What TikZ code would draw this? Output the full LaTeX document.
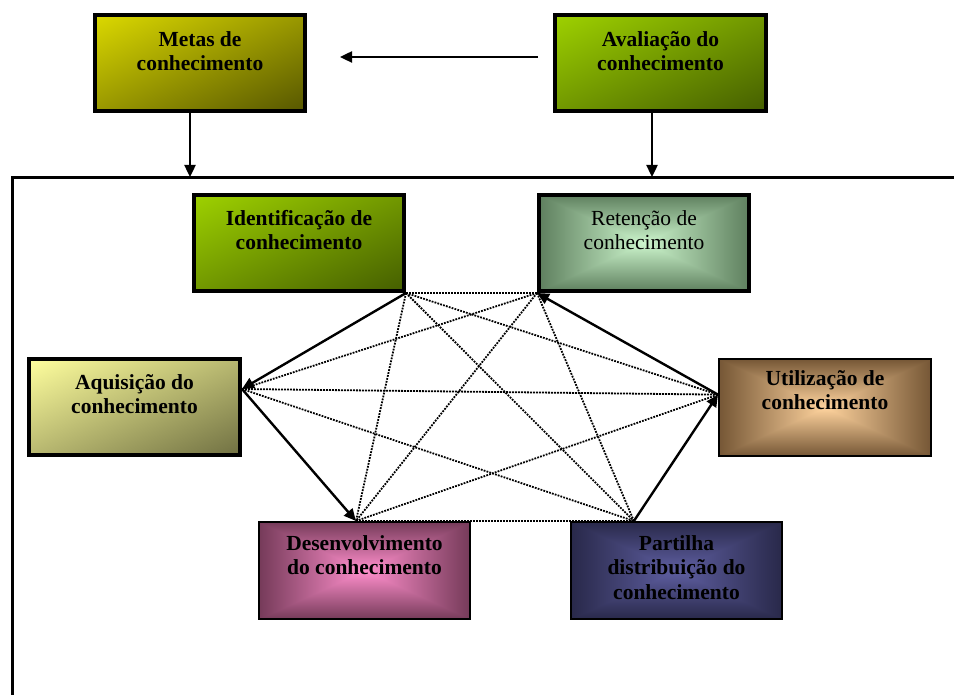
\documentclass[tikz,border=0pt]{standalone}
\usepackage{fontspec}
\setmainfont{Liberation Serif}
\usetikzlibrary{arrows.meta,calc}

% Box glowing from the centre outwards: name, centre rgb, edge rgb
\newcommand\rectglow[7]{%
  \pgfdeclarefunctionalshading{#1}{\pgfpoint{-50bp}{-50bp}}{\pgfpoint{50bp}{50bp}}{}{
    abs exch abs 2 copy gt {pop} {exch pop} ifelse 25 div
    dup 1 gt {pop 1} if
    dup #5 #2 sub mul #2 add exch
    dup #6 #3 sub mul #3 add exch
    #7 #4 sub mul #4 add
  }}
% Diagonal fade from the top-left corner: name, corner rgb, far rgb
\newcommand\cornerfade[7]{%
  \pgfdeclarefunctionalshading{#1}{\pgfpoint{-50bp}{-50bp}}{\pgfpoint{50bp}{50bp}}{}{
    sub 100 div 0.5 add
    dup 0 lt {pop 0} if dup 1 gt {pop 1} if
    dup #5 #2 sub mul #2 add exch
    dup #6 #3 sub mul #3 add exch
    #7 #4 sub mul #4 add
  }}

\cornerfade{fadeOlive}{0.86}{0.85}{0.00}{0.34}{0.34}{0.00}
\cornerfade{fadeGreen}{0.62}{0.82}{0.00}{0.27}{0.37}{0.00}
\cornerfade{fadeCream}{1.00}{1.00}{0.62}{0.44}{0.44}{0.26}
\rectglow{glowMint}{0.80}{0.96}{0.80}{0.37}{0.50}{0.37}
\rectglow{glowPeach}{1.00}{0.83}{0.62}{0.46}{0.34}{0.21}
\rectglow{glowPink}{1.00}{0.56}{0.80}{0.46}{0.23}{0.35}
\rectglow{glowSlate}{0.37}{0.37}{0.63}{0.16}{0.16}{0.29}

\begin{document}
\begin{tikzpicture}[x=1pt,y=-1pt,
  box/.style={draw=black, line width=4pt, minimum width=210pt,
    minimum height=96pt, inner sep=0pt, shade},
  thinbox/.style={box, line width=2pt, minimum width=212pt, minimum height=97pt},
  boxtext/.style={anchor=north, inner sep=0pt, align=center,
    font=\fontsize{21.5}{24.5}\selectfont\bfseries},
  flow/.style={line width=2.4pt, -{Triangle[length=12pt,width=11pt]}},
  link/.style={line width=1.8pt, dash pattern=on 1.8pt off 1.2pt},
  frame/.style={line width=3pt, line join=miter}]

\useasboundingbox (0,0) rectangle (954,695);

% outer frame of the process
\coordinate (frameBottom) at (12,695);
\coordinate (frameCorner) at (12,178);
\coordinate (frameRight) at (954,178);
\draw[frame] (frameBottom) -- (frameCorner) -- (frameRight);

% boxes
\node[box, shading=fadeOlive] (metas) at (200,63) {};
\node[box, shading=fadeGreen, minimum width=211pt] (aval) at (660.5,63) {};
\node[box, shading=fadeGreen] (ident) at (299,243) {};
\node[box, shading=glowMint] (ret) at (644,243) {};
\node[box, shading=fadeCream, minimum width=211pt] (aquis) at (134.5,407) {};
\node[thinbox, shading=glowPeach] (util) at (825,407.5) {};
\node[thinbox, shading=glowPink, minimum width=211pt] (desenv) at (364.5,570.5) {};
\node[thinbox, shading=glowSlate, minimum width=211pt] (part) at (676.5,570.5) {};

% box texts
\node[boxtext] (metas-t) at ([yshift=-18pt]metas.north) {Metas de\\conhecimento};
\node[boxtext] (aval-t) at ([yshift=-18pt]aval.north) {Avaliação do\\conhecimento};
\node[boxtext] (ident-t) at ([yshift=-17pt]ident.north) {Identificação de\\conhecimento};
\node[boxtext, font=\fontsize{21.5}{24.5}\selectfont] (ret-t) at ([yshift=-17pt]ret.north) {Retenção de\\conhecimento};
\node[boxtext] (aquis-t) at ([yshift=-17pt]aquis.north) {Aquisição do\\conhecimento};
\node[boxtext] (util-t) at ([yshift=-12pt]util.north) {Utilização de\\conhecimento};
\node[boxtext] (desenv-t) at ([yshift=-14pt]desenv.north) {Desenvolvimento\\do conhecimento};
\node[boxtext] (part-t) at ([yshift=-14pt]part.north) {Partilha\\distribuição do\\conhecimento};

% arrows into the frame and between the top boxes
\coordinate (metasIn) at (190,177);
\coordinate (avalIn) at (652,177);
\draw[flow] (metas.south -| metasIn) -- (metasIn);
\draw[flow] (aval.south -| avalIn) -- (avalIn);
\coordinate (topFrom) at (538,57);
\coordinate (topTo) at (340,57);
\draw[flow] (topFrom) -- (topTo);

% connection points of the six process boxes
\coordinate (pI) at (ident.south east);
\coordinate (pR) at (ret.south west);
\coordinate (pA) at ($(aquis.north east)!0.32!(aquis.south east)$);
\coordinate (pU) at ($(util.north west)!0.37!(util.south west)$);
\coordinate (pD) at ($(desenv.north west)!0.46!(desenv.north east)$);
\coordinate (pP) at ($(part.north west)!0.30!(part.north east)$);

% dotted links
\draw[link] (pI) -- (pR);
\draw[link] (pI) -- (pU);
\draw[link] (pI) -- (pD);
\draw[link] (pI) -- (pP);
\draw[link] (pR) -- (pA);
\draw[link] (pR) -- (pD);
\draw[link] (pR) -- (pP);
\draw[link] (pA) -- (pU);
\draw[link] (pA) -- (pP);
\draw[link] (pD) -- (pU);
\draw[link] (pD) -- (pP);

% main cycle
\draw[flow] (pI) -- (pA);
\draw[flow] (pA) -- (pD);
\draw[flow] (pP) -- (pU);
\draw[flow] (pU) -- (pR);
\end{tikzpicture}
\end{document}
